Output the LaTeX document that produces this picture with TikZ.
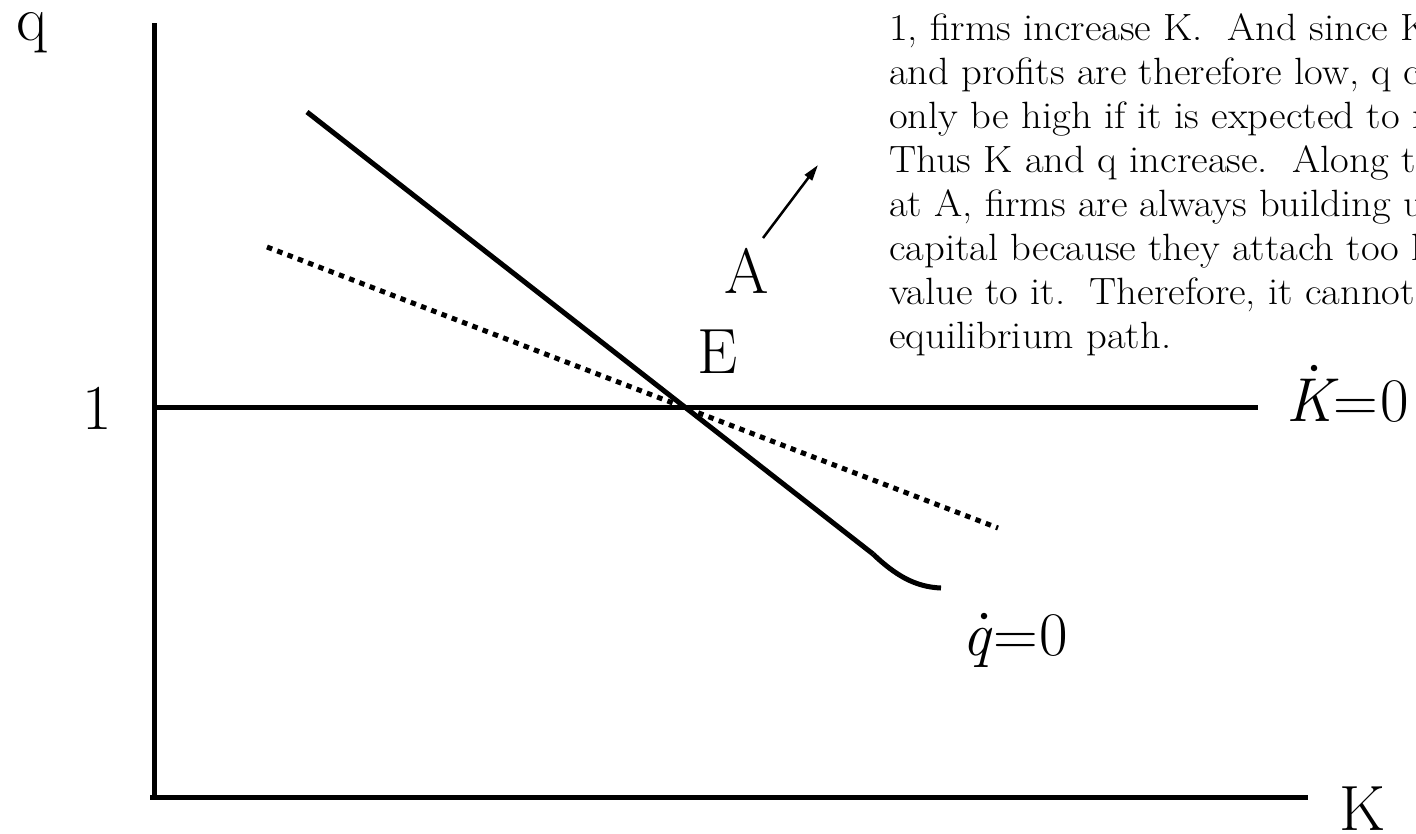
\documentclass[tikz,border=0pt]{standalone}
\usepackage{fontspec}
\usetikzlibrary{arrows.meta}
\newcommand{\wideline}[1]{\scalebox{1.07}[1]{#1}}
\begin{document}
\begin{tikzpicture}[x=1pt,y=-1pt,
  axis/.style={line width=5pt},
  curve/.style={line width=5pt},
  dotline/.style={line width=5pt,dash pattern=on 5.5pt off 5.5pt},
  big/.style={font=\fontsize{64}{64}\selectfont,inner sep=0pt,anchor=base},
  mlbl/.style={font=\fontsize{62}{62}\selectfont,inner sep=0pt,anchor=base west},
  txt/.style={font=\fontsize{38}{44}\selectfont,inner sep=0pt,anchor=base west},
  timedot/.style={circle,fill=black,inner sep=0pt,minimum size=6.5pt},
  pointer/.style={line width=2.5pt,-{Triangle[length=16pt,width=9pt]}}]
\clip (0,0) rectangle (1416,833);
\fill[white] (0,0) rectangle (1416,833);
% axes
\coordinate (Otop) at (154,23);
\coordinate (O) at (154,800);
\coordinate (Oleft) at (150,797);
\coordinate (Kend) at (1308,797);
\draw[axis] (Otop) -- (O);
\draw[axis] (Oleft) -- (Kend);
% K-dot = 0 line
\coordinate (one) at (154,407);
\coordinate (oneend) at (1258,407);
\draw[axis] (one) -- (oneend);
% q-dot = 0 curve
\coordinate (qs) at (307,112);
\coordinate (qk) at (873,554);
\coordinate (qe) at (941,588);
\draw[curve] (qs) -- (qk);
\draw[curve] (qk) .. controls (895,575) and (915,587) .. (qe);
% dotted path
\coordinate (ds) at (267,247);
\coordinate (de) at (998,528);
\draw[dotline] (ds) -- (de);
% arrow
\coordinate (at) at (763,238);
\coordinate (ah) at (818,165);
\draw[pointer] (at) -- (ah);
% labels
\node[big,text height=30pt] (lq) at (32,40) {q};
\node[big] (l1) at (97,429) {1};
\node[big] (lA) at (747,293) {A};
\node[big] (lE) at (718,373) {E};
\node[big,text depth=0pt] (lK) at (1362,830) {K};
\node[mlbl] (lqdot) at (962,655) {{\itshape q}\hspace{3pt}=\hspace{2pt}0};
\node[timedot] (qdotdot) at (984,616) {};
\node[mlbl] (lKdot) at (1286,421) {{\itshape K}\hspace{1pt}=\hspace{2pt}0};
\node[timedot] (Kdotdot) at (1314,368) {};
% text
\node[txt] (t1) at (889,40) {\wideline{1, firms increase K.\ \ And since K is}};
\node[txt] (t2) at (889,84) {\wideline{and profits are therefore low, q can}};
\node[txt] (t3) at (889,128) {\wideline{only be high if it is expected to rise.}};
\node[txt] (t4) at (889,172) {\wideline{Thus K and q increase.\ \ Along this}};
\node[txt] (t5) at (889,216) {\wideline{at A, firms are always building up}};
\node[txt] (t6) at (889,260) {\wideline{capital because they attach too high}};
\node[txt] (t7) at (889,304) {\wideline{value to it.\ \ Therefore, it cannot be}};
\node[txt] (t8) at (889,348) {\wideline{equilibrium path.}};
\end{tikzpicture}
\end{document}
